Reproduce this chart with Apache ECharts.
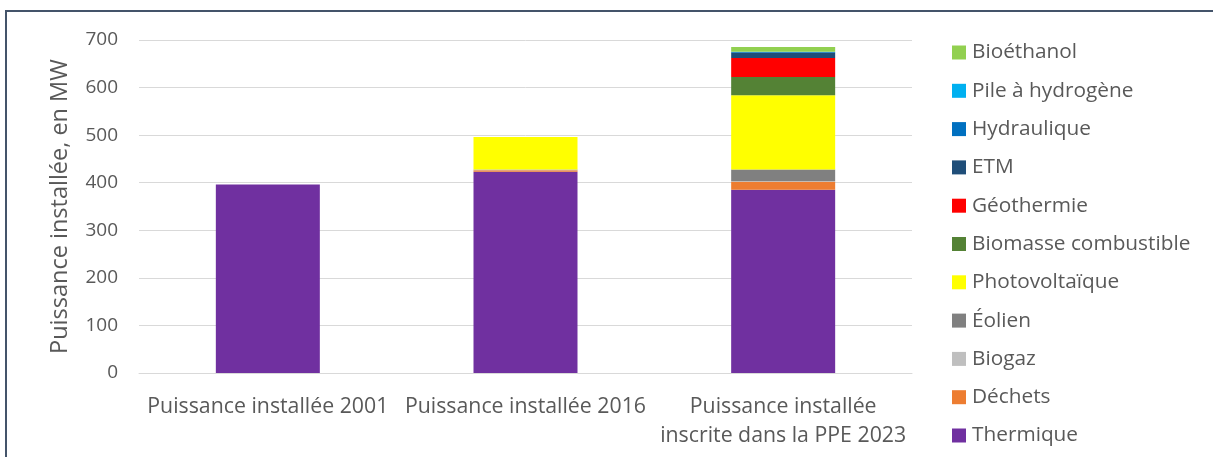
<!DOCTYPE html>
<html>
<head>
<meta charset="utf-8">
<script src="https://cdn.jsdelivr.net/npm/echarts@6/dist/echarts.min.js"></script>
<style>
html,body{margin:0;padding:0;background:#fff;}
#c{width:1213px;height:457px;}
</style>
</head>
<body>
<div id="c"></div>
<script>
const categories = ['Puissance installée 2001', 'Puissance installée 2016', 'Puissance installée\ninscrite dans la PPE 2023'];
const thermique = [396, 423, 385];
const dechets = [0, 3, 17];
const biogaz = [0, 1, 1];
const eolien = [0, 1, 25];
const photovoltaique = [0, 68, 156];
const biomasse = [0, 0, 38];
const geothermie = [0, 0, 40];
const etm = [0, 0, 11];
const hydraulique = [0, 0, 2];
const pileHydrogene = [0, 0, 0.5];
const bioethanol = [0, 0, 10];
const yTicks = [0, 100, 200, 300, 400, 500, 600, 700];

const seriesDefs = [
  ['Thermique', thermique, '#7030a0'],
  ['Déchets', dechets, '#ed7d31'],
  ['Biogaz', biogaz, '#bfbfbf'],
  ['Éolien', eolien, '#808080'],
  ['Photovoltaïque', photovoltaique, '#ffff00'],
  ['Biomasse combustible', biomasse, '#548235'],
  ['Géothermie', geothermie, '#ff0000'],
  ['ETM', etm, '#1f4e79'],
  ['Hydraulique', hydraulique, '#0070c0'],
  ['Pile à hydrogène', pileHydrogene, '#00b0f0'],
  ['Bioéthanol', bioethanol, '#92d050']
];

const FONT = 'Open Sans';
const TXT = '#595959';

const chart = echarts.init(document.getElementById('c'), null, {renderer: 'canvas'});
chart.setOption({
  animation: false,
  backgroundColor: '#fff',
  grid: {left: 139, top: 40, width: 773, height: 333},
  legend: {
    orient: 'vertical',
    left: 952,
    top: 42,
    padding: 0,
    height: 415,
    itemWidth: 14,
    itemHeight: 14,
    itemGap: 17.3,
    icon: 'rect',
    data: seriesDefs.map(s => s[0]).reverse(),
    textStyle: {fontFamily: FONT, fontSize: 20.8, color: TXT, lineHeight: 20, padding: [0, 0, 0, 1]}
  },
  xAxis: {
    type: 'category',
    data: categories,
    axisLine: {lineStyle: {color: '#d9d9d9', width: 1}},
    axisTick: {show: false},
    axisLabel: {fontFamily: FONT, fontSize: 21.3, color: TXT, margin: 19, lineHeight: 29, interval: 0}
  },
  yAxis: {
    type: 'value',
    min: 0,
    max: 700,
    interval: 100,
    name: 'Puissance installée, en MW',
    nameLocation: 'middle',
    nameGap: 67,
    nameTextStyle: {fontFamily: FONT, fontSize: 23.5, color: TXT},
    axisLine: {show: false},
    axisTick: {show: false},
    axisLabel: {fontFamily: FONT, fontSize: 19, color: TXT, margin: 21,
      formatter: v => yTicks.includes(v) ? String(v) : ''},
    splitLine: {lineStyle: {color: '#d9d9d9', width: 1}}
  },
  series: seriesDefs.map(([name, data, color]) => ({
    name, type: 'bar', stack: 'total', data,
    barWidth: 104,
    itemStyle: {color},
    emphasis: {disabled: true}
  })),
  graphic: [
    {type: 'line', shape: {x1: 6, y1: 11, x2: 6, y2: 460}, style: {stroke: '#44546a', lineWidth: 2}},
    {type: 'line', shape: {x1: 5, y1: 11, x2: 1215, y2: 11}, style: {stroke: '#44546a', lineWidth: 2}}
  ]
});
</script>
</body>
</html>
